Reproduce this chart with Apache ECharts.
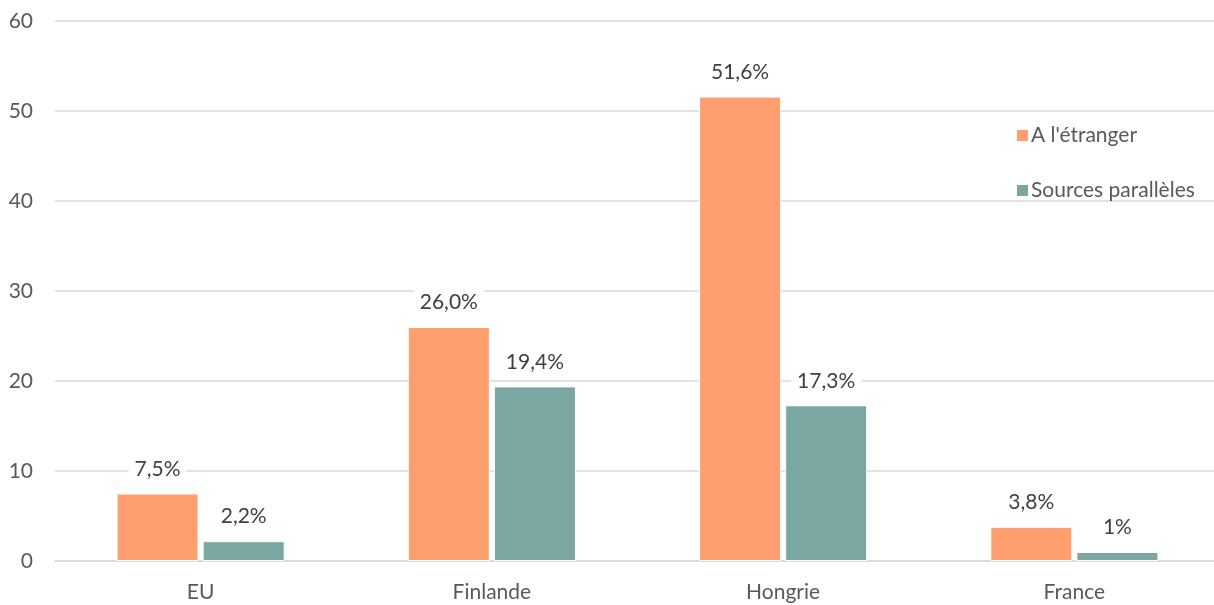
<!DOCTYPE html>
<html>
<head>
<meta charset="utf-8">
<script src="https://cdn.jsdelivr.net/npm/echarts@6/dist/echarts.min.js"></script>
<style>
  html, body { margin: 0; padding: 0; background: #fff; overflow: hidden; }
  #main { width: 1220px; height: 605px; }
</style>
</head>
<body>
<div id="main"></div>
<script>
var categories = ['EU', 'Finlande', 'Hongrie', 'France'];
var seriesNames = ["A l'étranger", 'Sources parallèles'];
var etranger = [7.5, 26.0, 51.6, 3.8];
var paralleles = [2.2, 19.4, 17.3, 1.0];
var etrangerLabels = ['7,5%', '26,0%', '51,6%', '3,8%'];
var parallelesLabels = ['2,2%', '19,4%', '17,3%', '1%'];
var yTicks = [0, 10, 20, 30, 40, 50, 60];

var font = 'Lato, "Noto Sans", sans-serif';

function labelStyle(texts) {
    return {
        show: true,
        position: 'top',
        distance: 10,
        padding: [4, 6],
        backgroundColor: '#fff',
        color: '#404040',
        fontSize: 21,
        fontFamily: font,
        formatter: function (p) { return texts[p.dataIndex]; }
    };
}

var myChart = echarts.init(document.getElementById('main'));
var option = {
    animation: false,
    textStyle: { fontFamily: font },
    grid: { left: 55, top: 21, right: 0, bottom: 44, containLabel: false },
    legend: {
        orient: 'vertical',
        left: 1010,
        top: 120,
        itemWidth: 13,
        itemHeight: 13,
        itemGap: 34,
        icon: 'rect',
        textStyle: { color: '#595959', fontSize: 21, fontFamily: font, padding: [0, 0, 0, -3] },
        data: seriesNames
    },
    xAxis: {
        type: 'category',
        data: categories,
        axisLine: { lineStyle: { color: '#d9d9d9', width: 1.5 } },
        axisTick: { show: false },
        axisLabel: { color: '#595959', fontSize: 21, fontFamily: font, margin: 21 }
    },
    yAxis: {
        type: 'value',
        min: yTicks[0],
        max: yTicks[yTicks.length - 1],
        interval: 10,
        axisLine: { show: false },
        axisTick: { show: false },
        axisLabel: { color: '#595959', fontSize: 21, fontFamily: font, margin: 22 },
        splitLine: { lineStyle: { color: '#d9d9d9', width: 1.5 } }
    },
    series: [
        {
            name: seriesNames[0],
            type: 'bar',
            data: etranger,
            barWidth: 82,
            barGap: '5%',
            itemStyle: { color: '#FF9E6E', borderColor: '#fff', borderWidth: 1 },
            label: labelStyle(etrangerLabels)
        },
        {
            name: seriesNames[1],
            type: 'bar',
            data: paralleles,
            barWidth: 82,
            barGap: '5%',
            itemStyle: { color: '#7BA7A3', borderColor: '#fff', borderWidth: 1 },
            label: labelStyle(parallelesLabels)
        }
    ]
};
myChart.setOption(option);
</script>
</body>
</html>
